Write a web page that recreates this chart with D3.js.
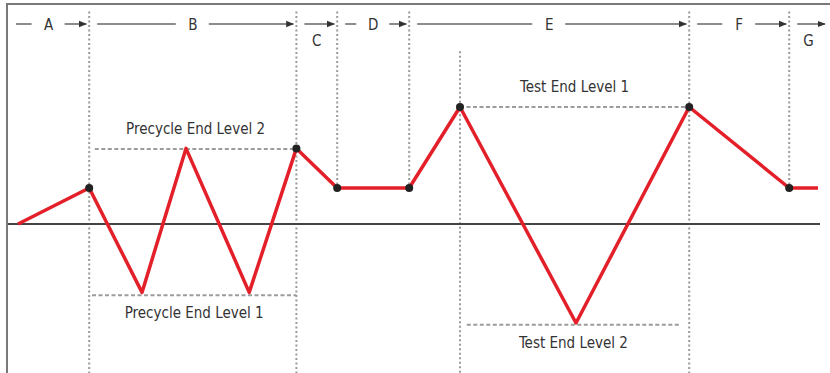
<!DOCTYPE html>
<html>
<head>
<meta charset="utf-8">
<script src="https://cdn.jsdelivr.net/npm/d3@7"></script>
<style>
  body { margin: 0; background: #fff; }
  text { font-family: "Liberation Sans Narrow", "DejaVu Sans Condensed", "Roboto", sans-serif; fill: #333; }
</style>
</head>
<body>
<script>
// time in arbitrary units, level in arbitrary units (0 = baseline)
var profileTime  = [0, 8.9, 15.5, 21, 28.9, 34.8, 39.9, 48.9, 55.25, 69.75, 83.9, 96.4, 100];
var profileLevel = [0, 1, -1.9, 2.1, -1.9, 2.1, 1, 1, 3.25, -2.75, 3.25, 1, 1];
var dotIndex = [1, 5, 6, 7, 8, 10, 11];

// phases across the top
var phaseNames = ["A", "B", "C", "D", "E", "F", "G"];
var phaseBounds = [-1.25, 8.9, 34.8, 39.9, 48.9, 83.9, 96.4, 101.25];
var phaseBelow = ["C", "G"]; // labels under the arrow (short phases)

// dotted markers: time, top level, bottom level
var markerTime = [8.9, 34.8, 39.9, 48.9, 55.25, 83.9, 96.4];
var markerTop  = [5.9, 5.9, 5.9, 5.9, 4.8, 5.9, 5.9];
var markerBot  = [-4.2, -4.2, 1, 1, -4.2, -4.2, 1];

// limit lines with labels
var limitNames = ["Precycle End Level 2", "Precycle End Level 1", "Test End Level 1", "Test End Level 2"];
var limitLevel = [2.08, -1.98, 3.25, -2.8];
var limitFrom  = [9.6, 9.25, 55.25, 56.1];
var limitTo    = [34.8, 34.8, 83.9, 82.75];
var labelAbove = [true, false, true, false];

var width = 830, height = 373;

var x = d3.scaleLinear().domain([0, 100]).range([18, 818]);
var y = d3.scaleLinear().domain([-4, 4]).range([368, 80]);

var svg = d3.select("body").append("svg")
  .attr("width", width)
  .attr("height", height);

svg.append("defs").append("marker")
  .attr("id", "arrow")
  .attr("viewBox", "0 0 10 10")
  .attr("refX", 9).attr("refY", 5)
  .attr("markerWidth", 8).attr("markerHeight", 8)
  .attr("markerUnits", "userSpaceOnUse")
  .attr("orient", "auto")
  .append("path")
  .attr("d", "M0,1 L10,5 L0,9 Z")
  .attr("fill", "#333");

// frame (top and left)
svg.append("path")
  .attr("d", "M7," + height + " L7,4 L" + width + ",4")
  .attr("fill", "none")
  .attr("stroke", "#7a7a7a")
  .attr("stroke-width", 2);

// dotted vertical markers
markerTime.forEach(function(t, i) {
  svg.append("line")
    .attr("x1", x(t)).attr("x2", x(t))
    .attr("y1", y(markerTop[i])).attr("y2", y(markerBot[i]))
    .attr("stroke", "#9a9a9a")
    .attr("stroke-width", 2)
    .attr("stroke-dasharray", "2,2.5");
});

// limit lines + labels
limitNames.forEach(function(name, i) {
  svg.append("line")
    .attr("x1", x(limitFrom[i])).attr("x2", x(limitTo[i]))
    .attr("y1", y(limitLevel[i])).attr("y2", y(limitLevel[i]))
    .attr("stroke", "#9c9c9c")
    .attr("stroke-width", 2)
    .attr("stroke-dasharray", "4,2.5");
  svg.append("text")
    .attr("x", x((limitFrom[i] + limitTo[i]) / 2))
    .attr("y", y(limitLevel[i]) + (labelAbove[i] ? -15 : 23))
    .attr("text-anchor", "middle")
    .style("font-size", "15px")
    .text(name);
});

// baseline
svg.append("line")
  .attr("x1", 8).attr("x2", 820)
  .attr("y1", y(0)).attr("y2", y(0))
  .attr("stroke", "#444")
  .attr("stroke-width", 2);

// the profile
var line = d3.line()
  .x(function(d) { return x(d[0]); })
  .y(function(d) { return y(d[1]); });

svg.append("path")
  .datum(d3.zip(profileTime, profileLevel))
  .attr("d", line)
  .attr("fill", "none")
  .attr("stroke", "#e3202a")
  .attr("stroke-width", 3.5)
  .attr("stroke-linejoin", "round");

svg.selectAll(".dot")
  .data(dotIndex)
  .enter().append("circle")
  .attr("class", "dot")
  .attr("cx", function(i) { return x(profileTime[i]); })
  .attr("cy", function(i) { return y(profileLevel[i]); })
  .attr("r", 4)
  .attr("fill", "#222");

// phase arrows across the top
var arrowY = 24;
phaseNames.forEach(function(p, i) {
  var x0 = x(phaseBounds[i]) + 8, x1 = x(phaseBounds[i + 1]) - 3;
  var mid = (x(phaseBounds[i]) + x(phaseBounds[i + 1])) / 2;
  var below = phaseBelow.indexOf(p) >= 0;
  if (below) {
    svg.append("line")
      .attr("x1", x0).attr("x2", x1)
      .attr("y1", arrowY).attr("y2", arrowY)
      .attr("stroke", "#666").attr("stroke-width", 1.5)
      .attr("marker-end", "url(#arrow)");
  } else {
    svg.append("line")
      .attr("x1", x0).attr("x2", mid - 17)
      .attr("y1", arrowY).attr("y2", arrowY)
      .attr("stroke", "#666").attr("stroke-width", 1.5);
    svg.append("line")
      .attr("x1", mid + 16).attr("x2", x1)
      .attr("y1", arrowY).attr("y2", arrowY)
      .attr("stroke", "#666").attr("stroke-width", 1.5)
      .attr("marker-end", "url(#arrow)");
  }
  svg.append("text")
    .attr("x", mid)
    .attr("y", below ? arrowY + 22 : arrowY + 6)
    .attr("text-anchor", "middle")
    .style("font-size", "15px")
    .text(p);
});
</script>
</body>
</html>
